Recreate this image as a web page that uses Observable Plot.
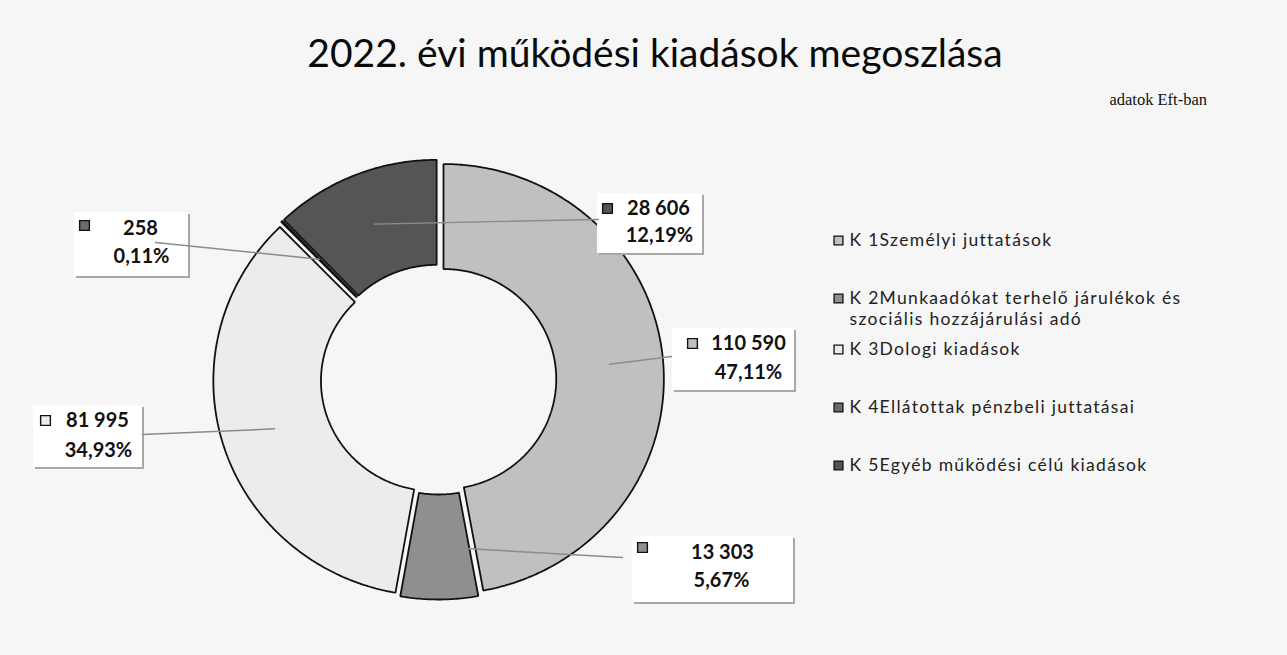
<!DOCTYPE html>
<html>
<head>
<meta charset="utf-8">
<script src="https://cdn.jsdelivr.net/npm/d3@7"></script>
<script src="https://cdn.jsdelivr.net/npm/@observablehq/plot@0.6"></script>
<style>
  html, body { margin: 0; padding: 0; background: #f6f6f6; }
  #wrap { position: relative; width: 1287px; height: 655px; overflow: hidden; }
  #header { position: relative; width: 1287px; height: 120px; }
  #title { position: absolute; left: 0; width: 1310px; text-align: center; top: 33px;
           font-family: Lato, "Open Sans", sans-serif; font-size: 39px; line-height: 1; color: #0a0a0a; white-space: nowrap; }
  #subtitle { position: absolute; right: 80px; top: 92px; font-family: "Liberation Serif", "DejaVu Serif", serif;
              font-size: 16.5px; line-height: 1; color: #111; }
  svg { display: block; }
</style>
</head>
<body>
<div id="wrap">
  <div id="header">
    <div id="title">2022. évi működési kiadások megoszlása</div>
    <div id="subtitle">adatok Eft-ban</div>
  </div>
  <div id="chart"></div>
</div>
<script>
// ---- data ----
const keys = ["K 1", "K 2", "K 3", "K 4", "K 5"];
const legendLines = [
  ["K 1Személyi juttatások"],
  ["K 2Munkaadókat terhelő járulékok és", "szociális hozzájárulási adó"],
  ["K 3Dologi kiadások"],
  ["K 4Ellátottak pénzbeli juttatásai"],
  ["K 5Egyéb működési célú kiadások"]
];
const values = [110590, 13303, 81995, 258, 28606];
const valueLabels = ["110 590", "13 303", "81 995", "258", "28 606"];
const percentLabels = ["47,11%", "5,67%", "34,93%", "0,11%", "12,19%"];

// ---- styles / layout (page pixel coordinates) ----
const colors = ["#c0c0c0", "#8f8f8f", "#ececec", "#6a6a6a", "#555555"];
const geom = {cx: 438, cy: 379, R: 215, r: 110, sx: 1.025, explode: 5};
const headerH = 120, W = 1287, H = 655;
const boxes = [ // label boxes: x1,x2,y1,y2
  {x1: 672, x2: 794, y1: 328, y2: 390},
  {x1: 632, x2: 793, y1: 536, y2: 602},
  {x1: 33,  x2: 142, y1: 405, y2: 467},
  {x1: 74,  x2: 188, y1: 212, y2: 276},
  {x1: 597, x2: 702, y1: 193, y2: 253}
];
const markerPos = [[692, 343], [642, 547], [45, 420], [84, 225], [607, 208]];
const valuePos = [[748, 343], [722, 552], [97, 420], [140, 228], [658, 208]];
const pctPos = [[748, 372], [721, 580], [98, 450], [141, 256], [659, 235]];
const leaderEnd = [[671, 356], [622, 557], [142, 434], [155, 242], [598, 219]];
const legendX = 838, legendTextX = 849;
const legendY = [240, 298, 349, 407, 465];
const legendLineGap = 21;

// ---- derived ----
const data = keys.map((k, i) => ({key: k, value: values[i]}));
const arcs = d3.pie().sort(null).value(d => d.value).startAngle(0).endAngle(2 * Math.PI)(data);

const slicePts = [];
const leaders = [];
arcs.forEach(a => {
  const mid = (a.startAngle + a.endAngle) / 2;
  const ox = geom.cx + geom.explode * Math.sin(mid);
  const oy = geom.cy - geom.explode * Math.cos(mid);
  const n = Math.max(2, Math.ceil((a.endAngle - a.startAngle) / 0.01));
  for (let j = 0; j <= n; j++) {
    const t = a.startAngle + (a.endAngle - a.startAngle) * j / n;
    slicePts.push({key: a.data.key, x: ox + geom.sx * geom.R * Math.sin(t), y: oy - geom.R * Math.cos(t)});
  }
  for (let j = n; j >= 0; j--) {
    const t = a.startAngle + (a.endAngle - a.startAngle) * j / n;
    slicePts.push({key: a.data.key, x: ox + geom.sx * geom.r * Math.sin(t), y: oy - geom.r * Math.cos(t)});
  }
  const i = keys.indexOf(a.data.key);
  const rm = (geom.R + geom.r) / 2;
  leaders.push({key: a.data.key, x: ox + geom.sx * rm * Math.sin(mid), y: oy - rm * Math.cos(mid)});
  leaders.push({key: a.data.key, x: leaderEnd[i][0], y: leaderEnd[i][1]});
});

const labelRows = keys.map((k, i) => ({
  key: k, ...boxes[i],
  mx: markerPos[i][0], my: markerPos[i][1],
  vx: valuePos[i][0], vy: valuePos[i][1], v: valueLabels[i],
  px: pctPos[i][0], py: pctPos[i][1], p: percentLabels[i]
}));

const legendRows = keys.map((k, i) => ({key: k, x: legendX, y: legendY[i]}));
const legendTexts = [];
keys.forEach((k, i) => legendLines[i].forEach((t, j) =>
  legendTexts.push({key: k, text: t, x: legendTextX, y: legendY[i] + j * legendLineGap})));

const sans = "Lato, 'Open Sans', sans-serif";

const chart = Plot.plot({
  width: W,
  height: H - headerH,
  margin: 0,
  style: {background: "transparent", overflow: "visible"},
  x: {domain: [0, W], axis: null},
  y: {domain: [headerH, H], reverse: true, axis: null},
  color: {domain: keys, range: colors},
  marks: [
    // donut slices
    Plot.line(slicePts, {x: "x", y: "y", z: "key", fill: "key", stroke: "#111", strokeWidth: 1.8,
      curve: "linear-closed", strokeLinejoin: "miter"}),
    // label boxes (shadow + white)
    Plot.rect(labelRows, {x1: "x1", x2: "x2", y1: "y1", y2: "y2", fill: "#a8a8a8", dx: 2, dy: 2}),
    Plot.rect(labelRows, {x1: "x1", x2: "x2", y1: "y1", y2: "y2", fill: "#ffffff"}),
    // leader lines
    Plot.line(leaders, {x: "x", y: "y", z: "key", stroke: "#8c8c8c", strokeWidth: 1.5}),
    // label markers
    Plot.dot(labelRows, {x: "mx", y: "my", fill: "key", stroke: "#111", strokeWidth: 1.4, symbol: "square", r: 5.5}),
    Plot.text(labelRows, {x: "vx", y: "vy", text: "v", fontFamily: sans, fontWeight: "bold", fontSize: 20, fill: "#111", textAnchor: "middle", lineAnchor: "middle"}),
    Plot.text(labelRows, {x: "px", y: "py", text: "p", fontFamily: sans, fontWeight: "bold", fontSize: 20, fill: "#111", textAnchor: "middle", lineAnchor: "middle"}),
    // legend
    Plot.dot(legendRows, {x: "x", y: "y", fill: "key", stroke: "#111", strokeWidth: 1.3, symbol: "square", r: 5}),
    Plot.text(legendTexts, {x: "x", y: "y", text: "text", fontFamily: sans, fontSize: 17.5, fill: "#222", textAnchor: "start", lineAnchor: "middle",
      style: {letterSpacing: "1.3px"}})
  ]
});
chart.querySelectorAll("text").forEach(t => {});
document.getElementById("chart").appendChild(chart);
// apply letter spacing to legend text group (last mark)
const groups = chart.querySelectorAll("g[aria-label='text']");
if (groups.length) groups[groups.length - 1].setAttribute("letter-spacing", "1.3px");
</script>
</body>
</html>
